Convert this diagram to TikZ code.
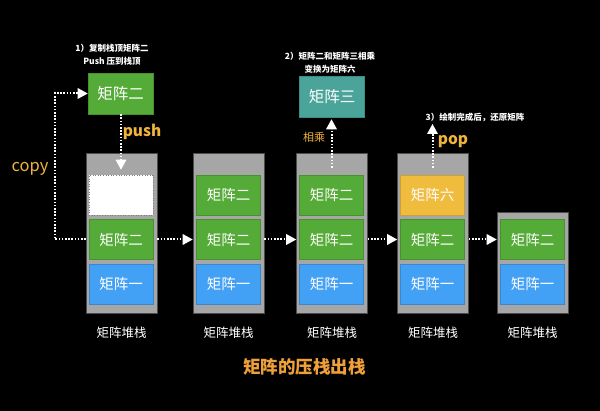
\documentclass[tikz,border=0pt]{standalone}
\usepackage{fontspec}
\setmainfont{Noto Sans CJK SC}
\usetikzlibrary{arrows.meta}
\definecolor{stackgray}{HTML}{A6A6A6}
\definecolor{mgreen}{HTML}{55AB37}
\definecolor{mblue}{HTML}{42A0F5}
\definecolor{myellow}{HTML}{F0BC3E}
\definecolor{mteal}{HTML}{4AA49A}
\definecolor{lbl}{HTML}{F0B43A}
\definecolor{ttl}{HTML}{F0A03A}
\begin{document}
\begin{tikzpicture}[x=1pt,y=-1pt,
  stackbox/.style={draw=black!70, line width=0.6pt, fill=stackgray, minimum width=71pt, inner sep=0pt},
  mbox/.style={minimum width=64pt, minimum height=40pt, inner sep=0pt, text=white, font=\fontsize{14.5}{16}\selectfont, line width=0.6pt},
  gbox/.style={mbox, fill=mgreen, draw=mgreen!85!black},
  bbox/.style={mbox, fill=mblue, draw=mblue!85!black},
  ybox/.style={mbox, fill=myellow, draw=myellow!85!black},
  wbox/.style={mbox, fill=white, draw=gray, dotted},
  topbox/.style={minimum width=65pt, minimum height=41pt, inner sep=0pt, text=white, font=\fontsize{15.5}{17}\selectfont, line width=0.6pt},
  dotarrow/.style={draw=white, line width=2pt, dash pattern=on 1.6pt off 1.6pt, -{Triangle[width=11pt,length=10pt,line width=0pt]}},
  note/.style={text=white, font=\bfseries\fontsize{8.5}{13}\selectfont, align=center, inner sep=0pt},
  caption/.style={text=white, font=\fontsize{12.5}{14}\selectfont, inner sep=0pt},
  orlbl/.style={text=lbl, inner sep=0pt}
]
\fill[black] (0,0) rectangle (600,411);
\useasboundingbox (0,0) rectangle (600,411);

% stacks
\node[stackbox, minimum height=160pt] (s1) at (121.5,233) {};
\node[stackbox, minimum height=160pt] (s2) at (228.5,233) {};
\node[stackbox, minimum height=160pt] (s3) at (332,233) {};
\node[stackbox, minimum height=160pt] (s4) at (433,233) {};
\node[stackbox, minimum height=101pt] (s5) at (532.5,262.5) {};

% stack 1
\node[wbox] (b1t) at (121,195) {};
\node[gbox] (b1m) at (121,239.5) {矩阵二};
\node[bbox] (b1b) at (121,284) {矩阵一};
% stack 2
\node[gbox] (b2t) at (228.5,195) {矩阵二};
\node[gbox] (b2m) at (228.5,239.5) {矩阵二};
\node[bbox] (b2b) at (228.5,284) {矩阵一};
% stack 3
\node[gbox] (b3t) at (331.5,195) {矩阵二};
\node[gbox] (b3m) at (331.5,239.5) {矩阵二};
\node[bbox] (b3b) at (331.5,284) {矩阵一};
% stack 4
\node[ybox] (b4t) at (432.5,195) {矩阵六};
\node[gbox] (b4m) at (432.5,239.5) {矩阵二};
\node[bbox] (b4b) at (432.5,284) {矩阵一};
% stack 5
\node[gbox] (b5m) at (532.5,239.5) {矩阵二};
\node[bbox] (b5b) at (532.5,284) {矩阵一};

% captions
\foreach \n in {1,...,5}{
  \node[caption] (c\n) at (s\n.south |- 0,333) {矩阵堆栈};
}

% top boxes
\node[topbox, fill=mgreen, draw=mgreen!85!black] (t1) at (120.5,93.5) {矩阵二};
\node[topbox, fill=mteal, draw=mteal!85!black] (t3) at (332,96.5) {矩阵三};

% notes
\node[note] (n1) at (112,54.5) {1）复制栈顶矩阵二\\Push 压到栈顶};
\node[note] (n2) at (330,62.5) {2）矩阵二和矩阵三相乘\\变换为矩阵六};
\node[note] (n3) at (475,117) {3）绘制完成后，还原矩阵};

% orange labels
\node[orlbl, font=\bfseries\fontsize{15.5}{17}\selectfont] (lpush) at (142,132) {push};
\node[orlbl, font=\fontsize{11}{13}\selectfont] (lmul) at (314,137) {相乘};
\node[orlbl, font=\bfseries\fontsize{15.5}{17}\selectfont] (lpop) at (453,142) {pop};
\node[orlbl, font=\fontsize{16.5}{18}\selectfont] (lcopy) at (30,169) {copy};

% title
\node[text=ttl, font=\bfseries\fontsize{17.5}{20}\selectfont, inner sep=0pt] (title) at (304.5,367) {矩阵的压栈出栈};

% connectors
\draw[dotarrow] (s1.west |- b1m) -- ++(-31,0) |- (t1.west);
\draw[dotarrow, shorten >=5pt] (t1.south -| b1t) -- (b1t.north);
\draw[dotarrow] (s1.east |- b1m) -- (s2.west |- b2m);
\draw[dotarrow] (s2.east |- b2m) -- (s3.west |- b3m);
\draw[dotarrow] (s3.east |- b3m) -- (s4.west |- b4m);
\draw[dotarrow] (s4.east |- b4m) -- (s5.west |- b5m);
\draw[dotarrow, shorten >=2pt] ([yshift=7pt]b3t.north) -- (t3.south -| b3t);
\coordinate (p4) at (432.5,124);
\draw[dotarrow] ([yshift=7pt]b4t.north) -- (p4);
\end{tikzpicture}
\end{document}
